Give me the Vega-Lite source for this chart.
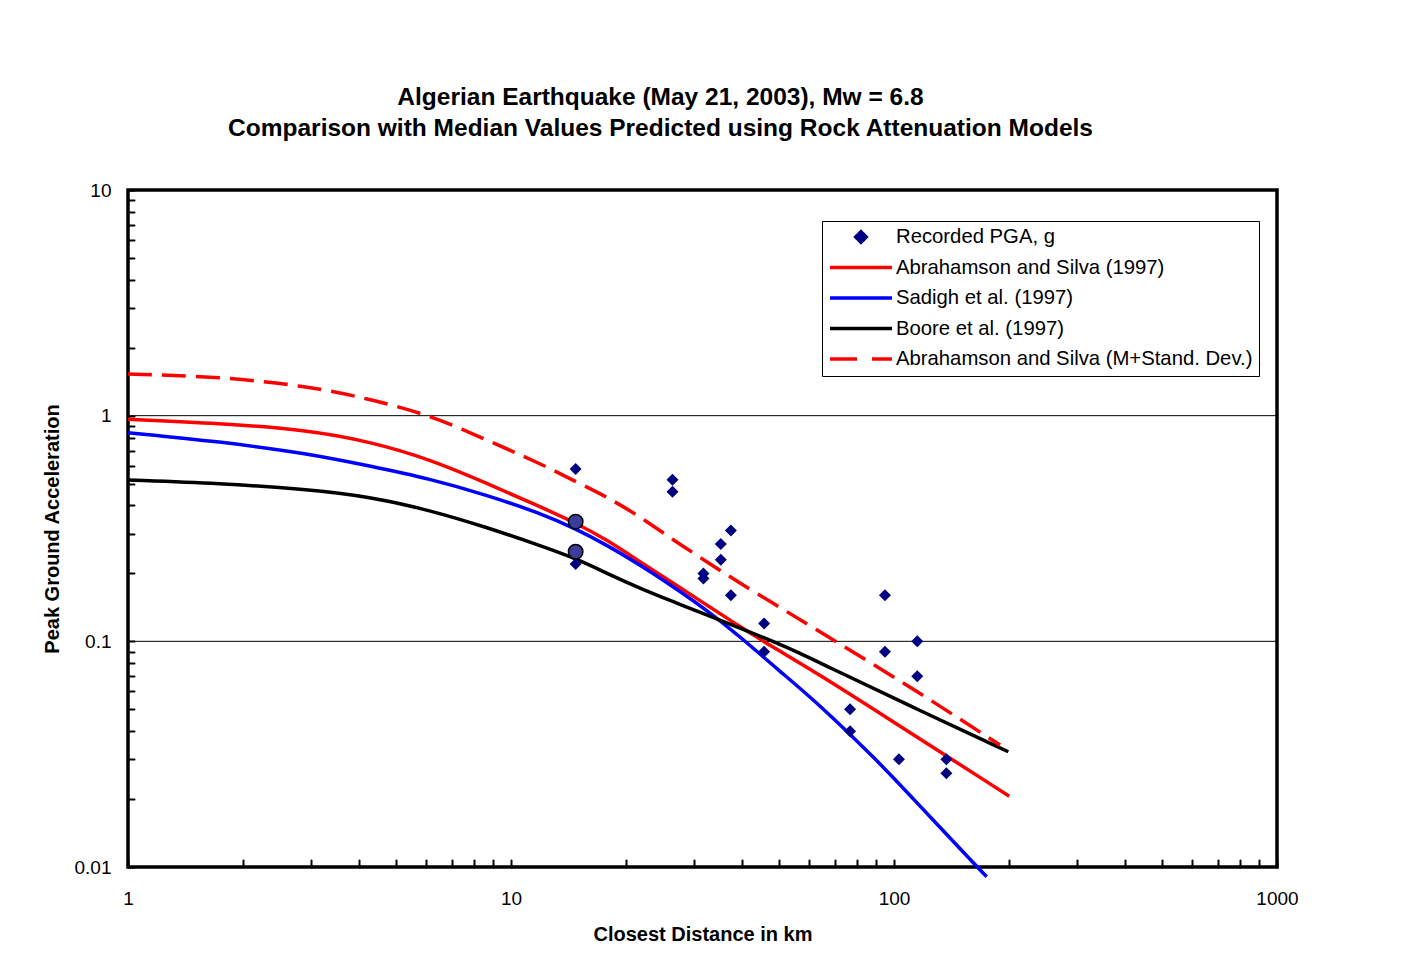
{
  "$schema": "https://vega.github.io/schema/vega-lite/v6.json",
  "width": 1149,
  "height": 677,
  "autosize": {"type": "none"},
  "padding": {"left": 128, "top": 190, "right": 129, "bottom": 108},
  "background": "white",
  "config": {
    "font": "Liberation Sans",
    "view": {"stroke": "black", "strokeWidth": 3.5},
    "axis": {"labelColor": "black", "titleColor": "black", "labelFont": "Liberation Sans", "titleFont": "Liberation Sans"}
  },
  "title": {
    "text": ["Algerian Earthquake (May 21, 2003), Mw = 6.8", "Comparison with Median Values Predicted using Rock Attenuation Models"],
    "fontSize": 24.5,
    "fontWeight": "bold",
    "font": "Liberation Sans",
    "color": "black",
    "lineHeight": 31,
    "anchor": "middle",
    "dx": -42,
    "offset": 40
  },
  "datasets": {
    "curves": [
      {"series": "Abrahamson and Silva (1997)", "d": 1, "pga": 0.964},
      {"series": "Abrahamson and Silva (1997)", "d": 1.739, "pga": 0.925},
      {"series": "Abrahamson and Silva (1997)", "d": 2.928, "pga": 0.864},
      {"series": "Abrahamson and Silva (1997)", "d": 4.284, "pga": 0.767},
      {"series": "Abrahamson and Silva (1997)", "d": 6.144, "pga": 0.641},
      {"series": "Abrahamson and Silva (1997)", "d": 8.643, "pga": 0.502},
      {"series": "Abrahamson and Silva (1997)", "d": 11.9, "pga": 0.395},
      {"series": "Abrahamson and Silva (1997)", "d": 14.75, "pga": 0.335},
      {"series": "Abrahamson and Silva (1997)", "d": 17.78, "pga": 0.282},
      {"series": "Abrahamson and Silva (1997)", "d": 21.72, "pga": 0.225},
      {"series": "Abrahamson and Silva (1997)", "d": 26.53, "pga": 0.181},
      {"series": "Abrahamson and Silva (1997)", "d": 32.43, "pga": 0.145},
      {"series": "Abrahamson and Silva (1997)", "d": 39.62, "pga": 0.116},
      {"series": "Abrahamson and Silva (1997)", "d": 48.4, "pga": 0.094},
      {"series": "Abrahamson and Silva (1997)", "d": 64.1, "pga": 0.0709},
      {"series": "Abrahamson and Silva (1997)", "d": 91.9, "pga": 0.048},
      {"series": "Abrahamson and Silva (1997)", "d": 200, "pga": 0.0206},
      {"series": "Sadigh et al. (1997)", "d": 1, "pga": 0.8405},
      {"series": "Sadigh et al. (1997)", "d": 1.739, "pga": 0.767},
      {"series": "Sadigh et al. (1997)", "d": 2.928, "pga": 0.681},
      {"series": "Sadigh et al. (1997)", "d": 4.284, "pga": 0.598},
      {"series": "Sadigh et al. (1997)", "d": 6.144, "pga": 0.525},
      {"series": "Sadigh et al. (1997)", "d": 8.643, "pga": 0.445},
      {"series": "Sadigh et al. (1997)", "d": 11.9, "pga": 0.37},
      {"series": "Sadigh et al. (1997)", "d": 14.75, "pga": 0.315},
      {"series": "Sadigh et al. (1997)", "d": 17.78, "pga": 0.2673},
      {"series": "Sadigh et al. (1997)", "d": 21.72, "pga": 0.218},
      {"series": "Sadigh et al. (1997)", "d": 26.53, "pga": 0.1747},
      {"series": "Sadigh et al. (1997)", "d": 32.43, "pga": 0.1377},
      {"series": "Sadigh et al. (1997)", "d": 39.62, "pga": 0.1049},
      {"series": "Sadigh et al. (1997)", "d": 49.9, "pga": 0.0746},
      {"series": "Sadigh et al. (1997)", "d": 64.1, "pga": 0.0522},
      {"series": "Sadigh et al. (1997)", "d": 91.9, "pga": 0.0288},
      {"series": "Sadigh et al. (1997)", "d": 106.8, "pga": 0.02194},
      {"series": "Sadigh et al. (1997)", "d": 167.7, "pga": 0.0097},
      {"series": "Sadigh et al. (1997)", "d": 174.6, "pga": 0.00906},
      {"series": "Boore et al. (1997)", "d": 1, "pga": 0.519},
      {"series": "Boore et al. (1997)", "d": 1.739, "pga": 0.5015},
      {"series": "Boore et al. (1997)", "d": 2.928, "pga": 0.4718},
      {"series": "Boore et al. (1997)", "d": 4.284, "pga": 0.4374},
      {"series": "Boore et al. (1997)", "d": 6.144, "pga": 0.381},
      {"series": "Boore et al. (1997)", "d": 8.643, "pga": 0.32},
      {"series": "Boore et al. (1997)", "d": 11.9, "pga": 0.266},
      {"series": "Boore et al. (1997)", "d": 14.75, "pga": 0.2333},
      {"series": "Boore et al. (1997)", "d": 17.78, "pga": 0.2002},
      {"series": "Boore et al. (1997)", "d": 21.72, "pga": 0.1718},
      {"series": "Boore et al. (1997)", "d": 26.53, "pga": 0.1498},
      {"series": "Boore et al. (1997)", "d": 32.43, "pga": 0.1308},
      {"series": "Boore et al. (1997)", "d": 39.62, "pga": 0.1146},
      {"series": "Boore et al. (1997)", "d": 48.4, "pga": 0.0998},
      {"series": "Boore et al. (1997)", "d": 56.85, "pga": 0.0885},
      {"series": "Boore et al. (1997)", "d": 64.1, "pga": 0.0802},
      {"series": "Boore et al. (1997)", "d": 110.1, "pga": 0.0517},
      {"series": "Boore et al. (1997)", "d": 198.8, "pga": 0.0324},
      {"series": "Abrahamson and Silva (M+Stand. Dev.)", "d": 1, "pga": 1.53},
      {"series": "Abrahamson and Silva (M+Stand. Dev.)", "d": 1.739, "pga": 1.488},
      {"series": "Abrahamson and Silva (M+Stand. Dev.)", "d": 2.928, "pga": 1.353},
      {"series": "Abrahamson and Silva (M+Stand. Dev.)", "d": 4.2, "pga": 1.194},
      {"series": "Abrahamson and Silva (M+Stand. Dev.)", "d": 6.144, "pga": 1.007},
      {"series": "Abrahamson and Silva (M+Stand. Dev.)", "d": 8.643, "pga": 0.78},
      {"series": "Abrahamson and Silva (M+Stand. Dev.)", "d": 11.9, "pga": 0.615},
      {"series": "Abrahamson and Silva (M+Stand. Dev.)", "d": 14.75, "pga": 0.51},
      {"series": "Abrahamson and Silva (M+Stand. Dev.)", "d": 17.78, "pga": 0.4374},
      {"series": "Abrahamson and Silva (M+Stand. Dev.)", "d": 21.72, "pga": 0.3566},
      {"series": "Abrahamson and Silva (M+Stand. Dev.)", "d": 26.53, "pga": 0.2812},
      {"series": "Abrahamson and Silva (M+Stand. Dev.)", "d": 32.43, "pga": 0.2254},
      {"series": "Abrahamson and Silva (M+Stand. Dev.)", "d": 39.62, "pga": 0.1808},
      {"series": "Abrahamson and Silva (M+Stand. Dev.)", "d": 48.4, "pga": 0.1474},
      {"series": "Abrahamson and Silva (M+Stand. Dev.)", "d": 66.05, "pga": 0.1067},
      {"series": "Abrahamson and Silva (M+Stand. Dev.)", "d": 110.1, "pga": 0.063},
      {"series": "Abrahamson and Silva (M+Stand. Dev.)", "d": 189.2, "pga": 0.0347}
    ],
    "recorded": [
      {"series": "Recorded PGA, g", "d": 14.75, "pga": 0.58},
      {"series": "Recorded PGA, g", "d": 14.75, "pga": 0.22},
      {"series": "Recorded PGA, g", "d": 26.4, "pga": 0.52},
      {"series": "Recorded PGA, g", "d": 26.4, "pga": 0.46},
      {"series": "Recorded PGA, g", "d": 31.8, "pga": 0.2},
      {"series": "Recorded PGA, g", "d": 31.8, "pga": 0.19},
      {"series": "Recorded PGA, g", "d": 35.3, "pga": 0.27},
      {"series": "Recorded PGA, g", "d": 35.3, "pga": 0.23},
      {"series": "Recorded PGA, g", "d": 37.5, "pga": 0.31},
      {"series": "Recorded PGA, g", "d": 37.5, "pga": 0.16},
      {"series": "Recorded PGA, g", "d": 45.8, "pga": 0.12},
      {"series": "Recorded PGA, g", "d": 45.8, "pga": 0.09},
      {"series": "Recorded PGA, g", "d": 76.8, "pga": 0.05},
      {"series": "Recorded PGA, g", "d": 76.8, "pga": 0.04},
      {"series": "Recorded PGA, g", "d": 94.7, "pga": 0.16},
      {"series": "Recorded PGA, g", "d": 94.7, "pga": 0.09},
      {"series": "Recorded PGA, g", "d": 103, "pga": 0.03},
      {"series": "Recorded PGA, g", "d": 115, "pga": 0.1},
      {"series": "Recorded PGA, g", "d": 115, "pga": 0.07},
      {"series": "Recorded PGA, g", "d": 137, "pga": 0.03},
      {"series": "Recorded PGA, g", "d": 137, "pga": 0.026}
    ],
    "highlighted": [
      {"d": 14.75, "pga": 0.339},
      {"d": 14.75, "pga": 0.2495}
    ],
    "grid": [
      {"g": 1},
      {"g": 0.1}
    ]
  },
  "layer": [
    {
      "data": {"name": "grid"},
      "mark": {"type": "rule", "color": "black", "strokeWidth": 1},
      "encoding": {
        "y": {
          "field": "g",
          "type": "quantitative",
          "scale": {"type": "log", "domain": [0.01, 10], "nice": false},
          "axis": {
            "title": "Peak Ground Acceleration",
            "titleFontSize": 20,
            "titleFontWeight": "bold",
            "titlePadding": 12,
            "values": [0.01, 0.02, 0.03, 0.04, 0.05, 0.06, 0.07, 0.08, 0.09, 0.1, 0.2, 0.3, 0.4, 0.5, 0.6, 0.7, 0.8, 0.9, 1, 2, 3, 4, 5, 6, 7, 8, 9, 10],
            "labelExpr": "indexof([0.01,0.1,1,10], datum.value) >= 0 ? format(datum.value, '~g') : ''",
            "labelFontSize": 19,
            "labelFlush": false,
            "labelOverlap": false,
            "labelPadding": 23,
            "tickSize": -6,
            "tickWidth": 2,
            "tickColor": "black",
            "tickCap": "round",
            "domain": false,
            "grid": false
          }
        }
      }
    },
    {
      "data": {"name": "curves"},
      "transform": [{"filter": "datum.series !== 'Abrahamson and Silva (M+Stand. Dev.)'"}],
      "mark": {"type": "line", "strokeWidth": 3.5, "interpolate": "basis"},
      "encoding": {
        "x": {
          "field": "d",
          "type": "quantitative",
          "scale": {"type": "log", "domain": [1, 1000], "nice": false},
          "axis": {
            "title": "Closest Distance in km",
            "titleFontSize": 20,
            "titleFontWeight": "bold",
            "titlePadding": 16,
            "values": [1, 2, 3, 4, 5, 6, 7, 8, 9, 10, 20, 30, 40, 50, 60, 70, 80, 90, 100, 200, 300, 400, 500, 600, 700, 800, 900, 1000],
            "labelExpr": "indexof([1,10,100,1000], datum.value) >= 0 ? format(datum.value, 'd') : ''",
            "labelFontSize": 19,
            "labelFlush": false,
            "labelOverlap": false,
            "labelPadding": 29,
            "tickSize": -7,
            "tickWidth": 2,
            "tickColor": "black",
            "tickCap": "round",
            "domain": false,
            "grid": false
          }
        },
        "y": {"field": "pga", "type": "quantitative"},
        "color": {
          "field": "series",
          "type": "nominal",
          "scale": {
            "domain": ["Recorded PGA, g", "Abrahamson and Silva (1997)", "Sadigh et al. (1997)", "Boore et al. (1997)", "Abrahamson and Silva (M+Stand. Dev.)"],
            "range": ["#000080", "#ff0000", "#0000ff", "#000000", "#ff0000"]
          },
          "legend": {
            "title": null,
            "orient": "none",
            "legendX": 694,
            "legendY": 31,
            "padding": 6,
            "strokeColor": "black",
            "fillColor": "white",
            "labelFontSize": 20.3,
            "labelFont": "Liberation Sans",
            "labelColor": "black",
            "labelLimit": 600,
            "labelOffset": 2,
            "symbolType": "stroke",
            "symbolSize": 3844,
            "symbolStrokeWidth": 3,
            "clipHeight": 20,
            "rowPadding": 9.5,
            "encode": {
              "symbols": {
                "update": {
                  "shape": {"signal": "datum.value === 'Recorded PGA, g' ? 'diamond' : 'stroke'"},
                  "size": {"signal": "datum.value === 'Recorded PGA, g' ? 110 : 3844"},
                  "fill": {"signal": "datum.value === 'Recorded PGA, g' ? '#000080' : 'transparent'"},
                  "stroke": {"signal": "datum.value === 'Recorded PGA, g' ? 'transparent' : (datum.value === 'Sadigh et al. (1997)' ? '#0000ff' : (datum.value === 'Boore et al. (1997)' ? '#000000' : '#ff0000'))"},
                  "strokeWidth": {"value": 3.5},
                  "strokeDash": {"signal": "datum.value === 'Abrahamson and Silva (M+Stand. Dev.)' ? [27, 15] : [1, 0]"},
                  "opacity": {"value": 1}
                }
              }
            }
          }
        }
      }
    },
    {
      "data": {"name": "curves"},
      "transform": [{"filter": "datum.series === 'Abrahamson and Silva (M+Stand. Dev.)'"}],
      "mark": {"type": "line", "strokeWidth": 3.5, "strokeDash": [24, 10], "interpolate": "basis"},
      "encoding": {
        "x": {"field": "d", "type": "quantitative"},
        "y": {"field": "pga", "type": "quantitative"},
        "color": {"field": "series", "type": "nominal"}
      }
    },
    {
      "data": {"name": "recorded"},
      "mark": {"type": "point", "shape": "diamond", "filled": true, "size": 144, "opacity": 1, "strokeWidth": 0},
      "encoding": {
        "x": {"field": "d", "type": "quantitative"},
        "y": {"field": "pga", "type": "quantitative"},
        "color": {"field": "series", "type": "nominal"}
      }
    },
    {
      "data": {"name": "highlighted"},
      "mark": {"type": "point", "shape": "circle", "filled": true, "size": 210, "fill": "#3c3c9a", "stroke": "black", "strokeWidth": 1.5, "opacity": 1},
      "encoding": {
        "x": {"field": "d", "type": "quantitative"},
        "y": {"field": "pga", "type": "quantitative"}
      }
    }
  ]
}
